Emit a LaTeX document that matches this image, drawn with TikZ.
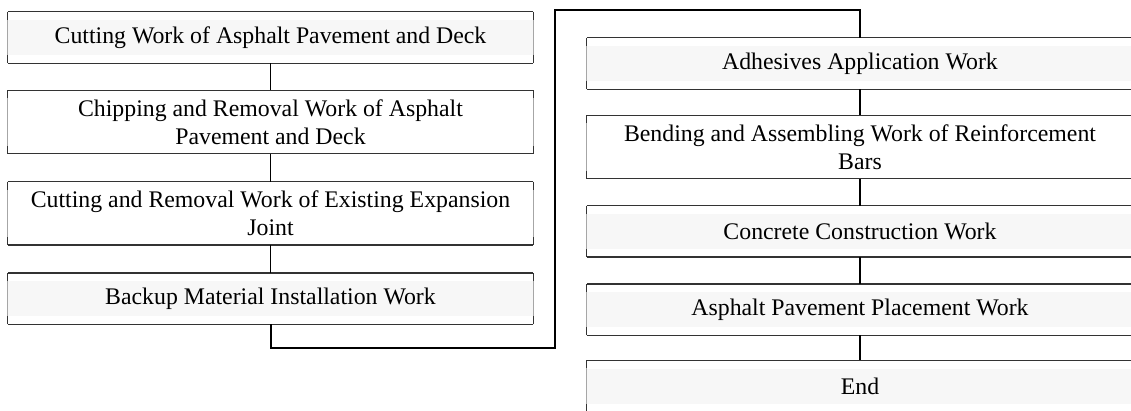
\documentclass[tikz,border=0pt]{standalone}
\usepackage{fontspec}
\setmainfont{Liberation Serif}
\usetikzlibrary{positioning}
\definecolor{bandgray}{HTML}{F7F7F7}
\definecolor{framegray}{HTML}{333333}

\begin{document}
\begin{tikzpicture}[x=1pt,y=-1pt,
  node distance=27pt,
  stepbox/.style={rectangle,inner sep=0pt,minimum width=525pt,minimum height=51pt,align=center,
    font=\fontsize{23.8}{28}\selectfont,
    path picture={\fill[bandgray] ([yshift=-8pt]path picture bounding box.north west) rectangle ([yshift=8pt]path picture bounding box.south east);}},
  twoline/.style={stepbox,minimum height=63pt,path picture={}},
  wide/.style={minimum width=546pt},
  frame/.style={framegray,line width=1.2pt},
  side/.style={black!35,line width=1pt},
  link/.style={line width=1.3pt},
  boldlink/.style={line width=2.5pt},
  bracket/.style={line width=2pt}]
\clip (0,0) rectangle (1131,410);
% left column
\node[stepbox] (l1) at (270.5,37.5) {Cutting Work of Asphalt Pavement and Deck};
\node[twoline,below=of l1] (l2) {Chipping and Removal Work of Asphalt\\Pavement and Deck};
\node[twoline,below=28pt of l2] (l3) {Cutting and Removal Work of Existing Expansion\\Joint};
\node[stepbox,below=28pt of l3] (l4) {Backup Material Installation Work};
% right column
\node[stepbox,wide] (r1) at (860,63.5) {Adhesives Application Work};
\node[twoline,wide,below=26pt of r1] (r2) {Bending and Assembling Work of Reinforcement\\Bars};
\node[stepbox,wide,below=of r2] (r3) {Concrete Construction Work};
\node[stepbox,wide,below=of r3] (r4) {Asphalt Pavement Placement Work};
\node[stepbox,wide,below=25pt of r4] (r5) {End};
% box frames
\foreach \n in {l1,l2,l3,l4,r1,r2,r3,r4,r5}{
  \draw[side] (\n.north west) -- (\n.south west) (\n.north east) -- (\n.south east);
  \draw[frame] (\n.north west) -- (\n.north east) (\n.south west) -- (\n.south east);
  \draw[frame] (\n.north west) -- ++(0,8) (\n.south west) -- ++(0,-8)
    (\n.north east) -- ++(0,8) (\n.south east) -- ++(0,-8);
}
% connectors
\draw[link] (l1) -- (l2);
\draw[link] (l2) -- (l3);
\draw[link] (l3) -- (l4);
\coordinate (turnlow) at (555,348);
\coordinate (turnhigh) at (555,10);
\draw[bracket] (l4.south) |- (turnlow) -- (turnhigh) -| (r1.north);
\draw[boldlink] (r1) -- (r2);
\draw[boldlink] (r2) -- (r3);
\draw[boldlink] (r3) -- (r4);
\draw[boldlink] (r4) -- (r5);
\end{tikzpicture}
\end{document}
